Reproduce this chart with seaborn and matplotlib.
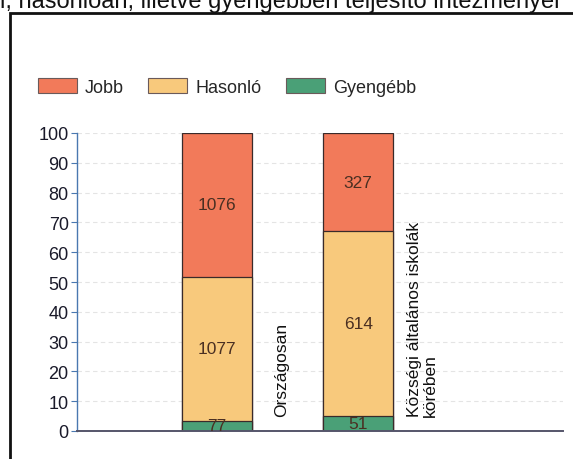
import matplotlib
matplotlib.use("Agg")
import matplotlib.pyplot as plt
from matplotlib.patches import Patch, Rectangle
import seaborn as sns
import pandas as pd
import numpy as np

# data (school counts per group)
categories = ["Országosan", "Községi általános iskolák\nkörében"]
series = ["Jobb", "Hasonló", "Gyengébb"]
jobb = [1076, 327]
hasonlo = [1077, 614]
gyengebb = [77, 51]

colors = {"Jobb": "#f27a5a", "Hasonló": "#f8c97c", "Gyengébb": "#4aa077"}

sns.set_style("white")
plt.rcParams["font.family"] = ["Liberation Sans", "DejaVu Sans"]

counts = np.array([jobb, hasonlo, gyengebb], dtype=float)
pct = counts / counts.sum(axis=0) * 100
df = pd.DataFrame({
    "cat": categories,
    "gy": pct[2],
    "ha": pct[1] + pct[2],
    "jo": pct[0] + pct[1] + pct[2],
})

fig = plt.figure(figsize=(5.73, 4.60), dpi=100)
ax = fig.add_axes([77 / 573, 1 - 432 / 460, (563 - 77) / 573, (432 - 134) / 460])

# stacked bars: draw cumulative heights from tallest to shortest
for col, name in [("jo", "Jobb"), ("ha", "Hasonló"), ("gy", "Gyengébb")]:
    sns.barplot(data=df, x="cat", y=col, ax=ax, color=colors[name], width=0.5,
                edgecolor="#3a2a2a", linewidth=0.9, saturation=1, zorder=2)

# value labels in the middle of each segment
bottoms = np.zeros(2)
for vals, p in [(gyengebb, pct[2]), (hasonlo, pct[1]), (jobb, pct[0])]:
    for i in range(2):
        ax.text(i, bottoms[i] + p[i] / 2, str(vals[i]), ha="center", va="center",
                fontsize=12.5, color="#4a2f22", zorder=3)
    bottoms = bottoms + p

# category names, rotated, to the right of each bar
for i, cat in enumerate(categories):
    ax.text(i + 0.455, 5.0, cat, rotation=90, ha="center", va="bottom",
            multialignment="left", fontsize=12.5, color="#111111", linespacing=1.0)

ax.set_xlim(-0.99, 2.45)
ax.set_ylim(0, 100)
ax.set_yticks(range(0, 101, 10))
ax.set_xticks([])
ax.set_xlabel("")
ax.set_ylabel("")
ax.tick_params(axis="y", labelsize=13, colors="#4a78b0", labelcolor="#1a1a2a",
               length=4, width=0.8, left=True, pad=2)
ax.yaxis.grid(True, color="#e4e4e4", linewidth=0.8, linestyle=(0, (4, 3)), zorder=0)
ax.set_axisbelow(True)
for s in ["top", "right"]:
    ax.spines[s].set_visible(False)
ax.spines["left"].set_color("#4a78b0")
ax.spines["left"].set_linewidth(1.0)
ax.spines["bottom"].set_color("#55556a")
ax.spines["bottom"].set_linewidth(1.4)

# legend
handles = [Patch(facecolor=colors[s], edgecolor="#6a5a5a", linewidth=0.8, label=s) for s in series]
fig.legend(handles=handles, loc="center left", bbox_to_anchor=(38 / 573, 1 - 88 / 460),
           ncol=3, frameon=False, fontsize=13, handlelength=2.15, handleheight=0.9,
           handletextpad=0.45, columnspacing=1.35, borderpad=0, borderaxespad=0)

# outer frame of the scanned box
fig.patches.append(Rectangle((10 / 573, -0.1), 1.2, 1.1 - 14 / 460,
                             transform=fig.transFigure, fill=False,
                             edgecolor="#111111", linewidth=2.0))

# clipped heading line from the page above
fig.text(0.0, 1 - 8 / 460, "l, hasonlóan, illetve gyengébben teljesítő intézményei",
         ha="left", va="baseline", fontsize=17, color="#111111")

fig.savefig("out.png", dpi=100)
